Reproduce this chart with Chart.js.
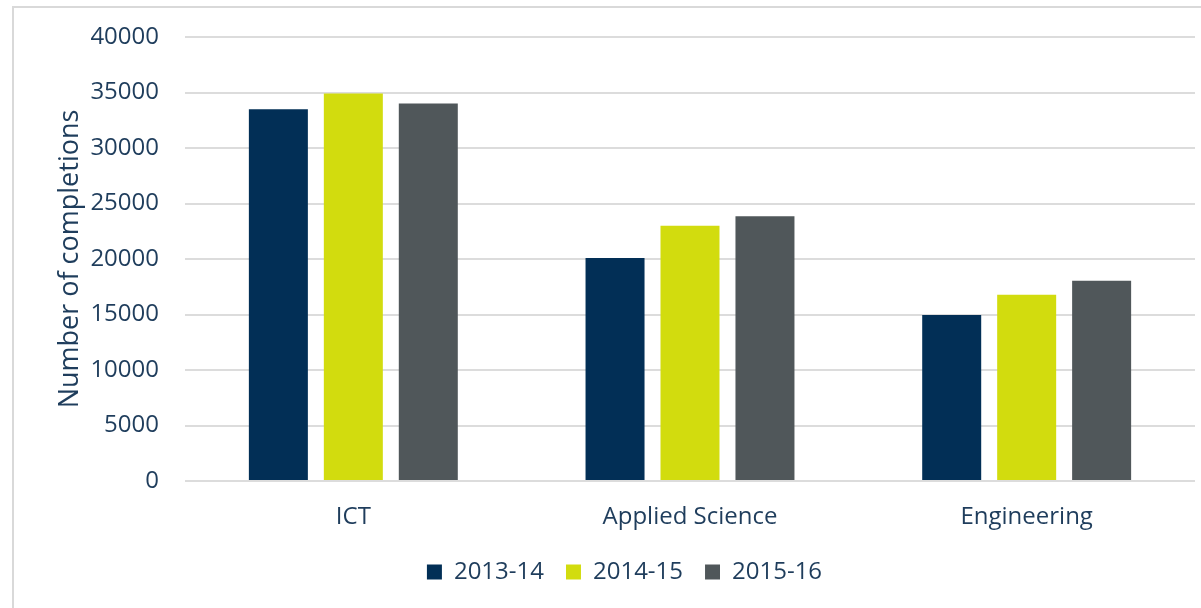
<!DOCTYPE html>
<html>
<head>
<meta charset="utf-8">
<script src="https://cdn.jsdelivr.net/npm/chart.js@4"></script>
<style>
  html, body { margin: 0; padding: 0; background: #fff; overflow: hidden; }
  #wrap { position: relative; width: 1201px; height: 608px; }
  #frame { position: absolute; left: 12px; top: 6px; width: 1300px; height: 700px;
           border: 2px solid #d9d9d9; box-sizing: border-box; }
  #chart { position: absolute; left: 0; top: 0; }
</style>
</head>
<body>
<div id="wrap">
  <div id="frame"></div>
  <canvas id="chart" width="1201" height="608"></canvas>
</div>
<script>
  /* ---------- Data ---------- */
  const categories = ['ICT', 'Applied Science', 'Engineering'];
  const years = ['2013-14', '2014-15', '2015-16'];
  const values2013 = [33500, 20100, 14950];
  const values2014 = [34900, 23000, 16770];
  const values2015 = [34000, 23850, 18050];
  const yTicks = [0, 5000, 10000, 15000, 20000, 25000, 30000, 35000, 40000];

  const colors = ['#022f56', '#d2dc0e', '#50575a'];
  const textColor = '#1f3d5c';
  const font = 'Open Sans';

  const series = [values2013, values2014, values2015];

  /* left padding shifts the centred legend; the y axis width makes up for it */
  const padLeft = 54;

  new Chart(document.getElementById('chart'), {
    type: 'bar',
    data: {
      labels: categories,
      datasets: series.map((data, i) => ({
        label: years[i],
        data,
        backgroundColor: colors[i],
        borderWidth: 0,
        categoryPercentage: 0.668,
        barPercentage: 0.787,
      })),
    },
    options: {
      responsive: false,
      animation: false,
      layout: { padding: { left: padLeft, right: 6, top: 37, bottom: 14 } },
      plugins: {
        tooltip: { enabled: false },
        legend: {
          position: 'bottom',
          labels: {
            boxWidth: 15,
            boxHeight: 15,
            padding: 22,
            color: textColor,
            font: { family: font, size: 24 },
          },
        },
      },
      scales: {
        x: {
          afterFit: (s) => { s.height = 57; },
          grid: { display: false },
          border: { display: false },
          ticks: { color: textColor, font: { family: font, size: 24 }, padding: 14 },
        },
        y: {
          min: 0,
          max: 40000,
          afterFit: (s) => { s.width = 185 - padLeft; },
          afterBuildTicks: (s) => { s.ticks = yTicks.map((v) => ({ value: v })); },
          /* invisible tick marks keep the labels off the grid without padding the top */
          grid: { color: '#dcdcdc', lineWidth: 2, drawTicks: true, tickLength: 26, tickColor: 'rgba(0,0,0,0)' },
          border: { display: false },
          ticks: {
            color: textColor,
            font: { family: font, size: 24 },
            padding: 0,
            callback: (v) => String(v),
          },
          title: {
            display: true,
            text: 'Number of completions',
            color: textColor,
            font: { family: font, size: 27 },
            padding: { top: 0, bottom: 0 },
          },
        },
      },
    },
  });
</script>
</body>
</html>
